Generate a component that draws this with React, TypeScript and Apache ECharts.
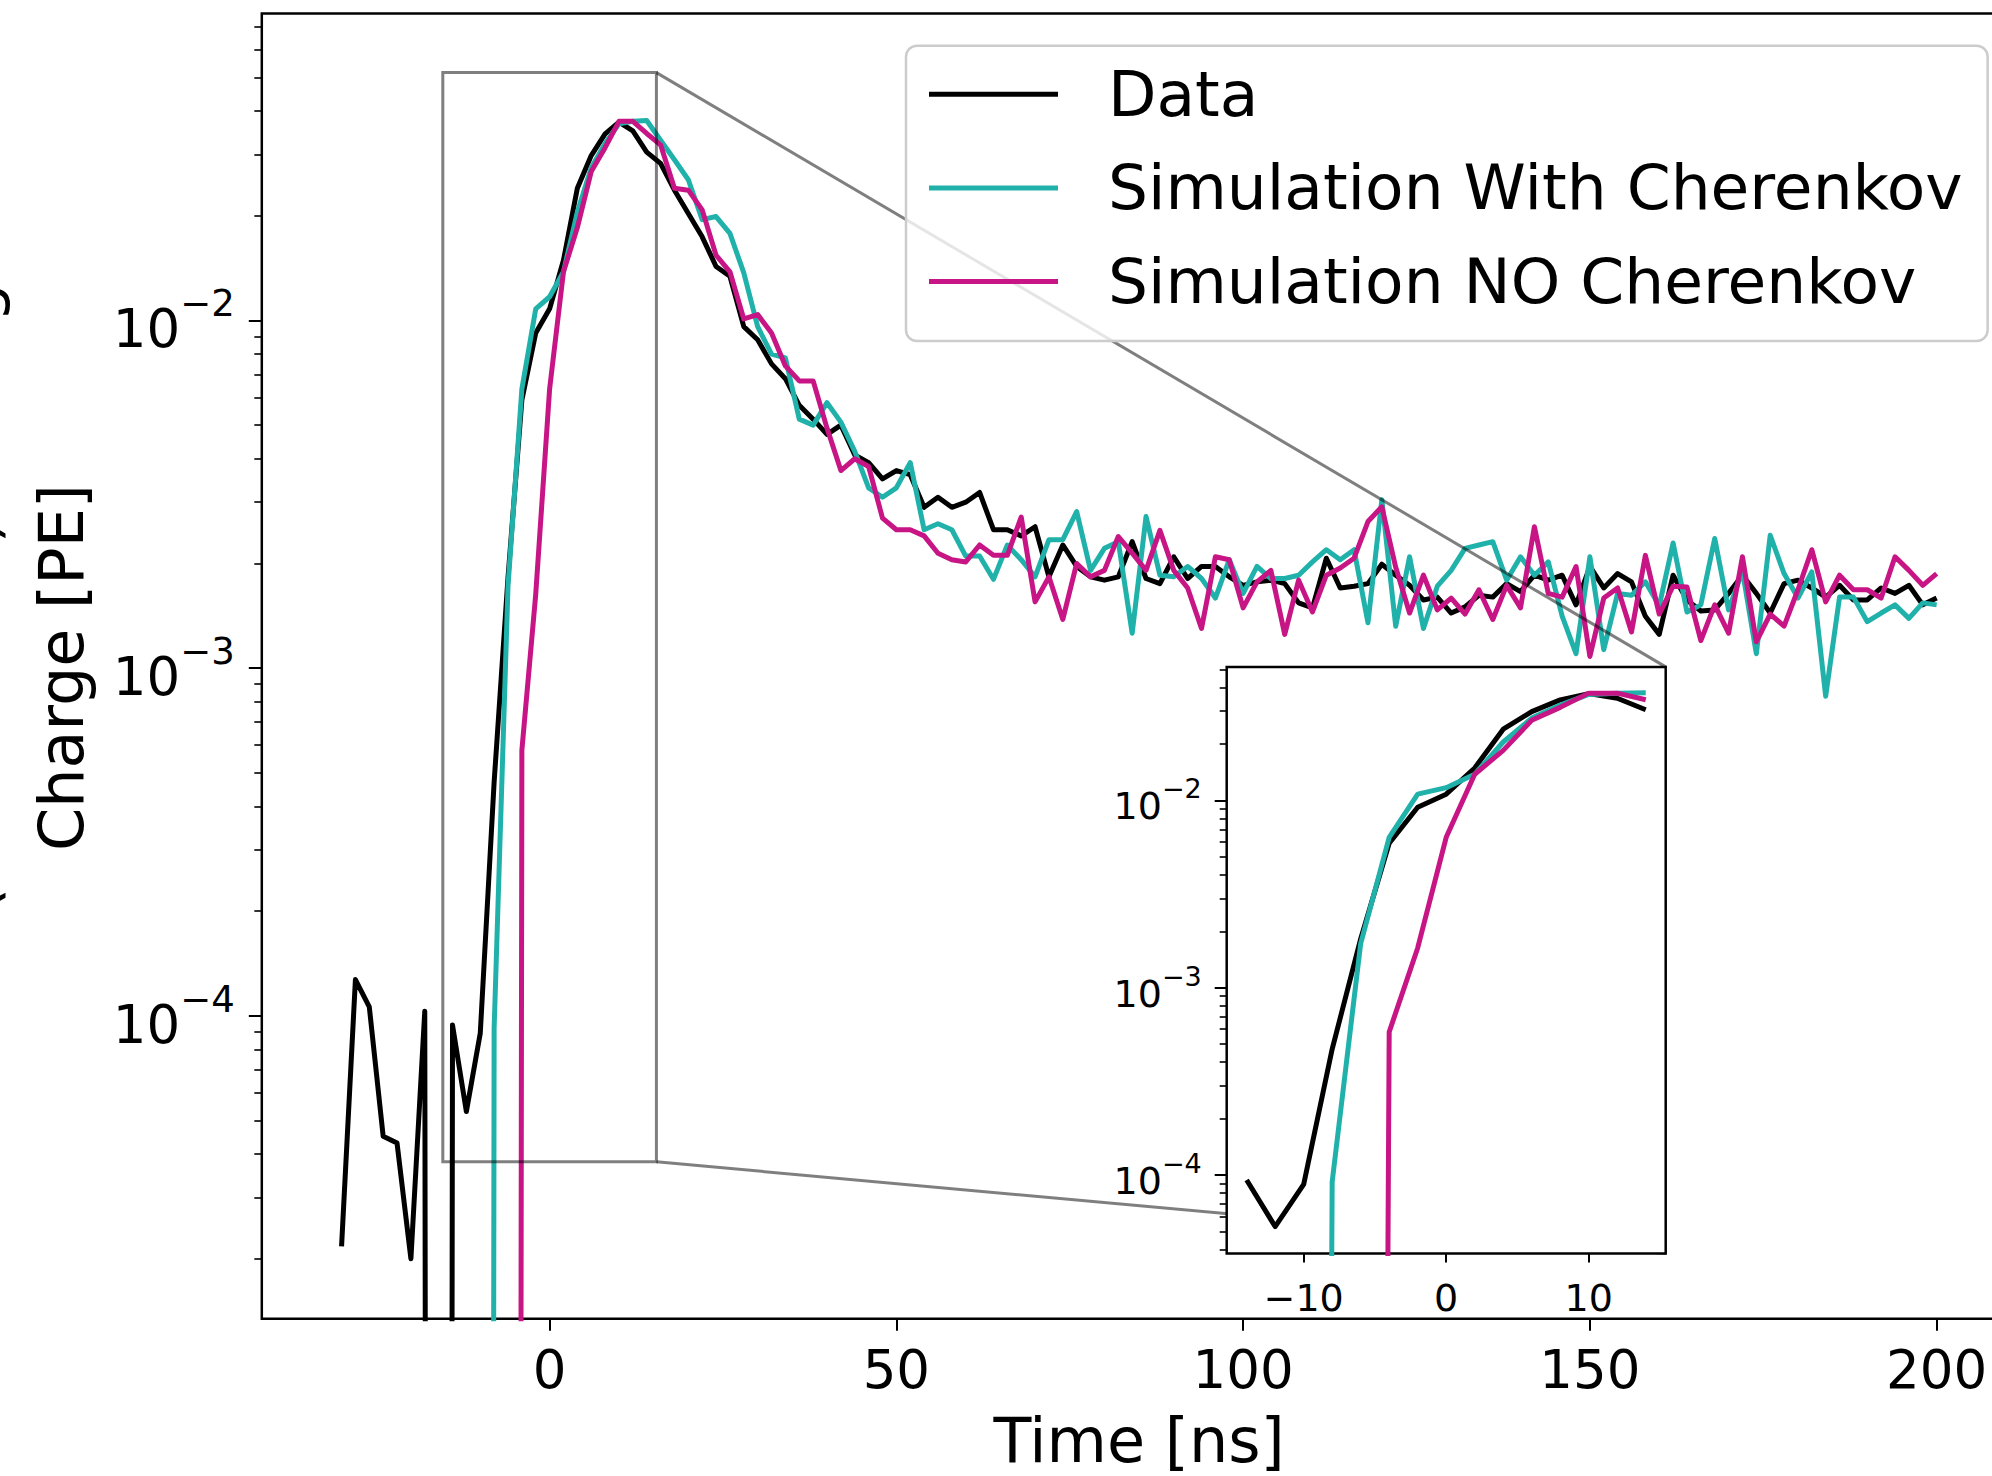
import React, { useEffect, useRef } from "react";
import * as echarts from "echarts";

// ---------------- data ----------------
const TIME = [
  -30, -28, -26, -24, -22, -20, -18, -16, -14, -12,
  -10, -8, -6, -4, -2, 0, 2, 4, 6, 8,
  10, 12, 14, 16, 18, 20, 22, 24, 26, 28,
  30, 32, 34, 36, 38, 40, 42, 44, 46, 48,
  50, 52, 54, 56, 58, 60, 62, 64, 66, 68,
  70, 72, 74, 76, 78, 80, 82, 84, 86, 88,
  90, 92, 94, 96, 98, 100, 102, 104, 106, 108,
  110, 112, 114, 116, 118, 120, 122, 124, 126, 128,
  130, 132, 134, 136, 138, 140, 142, 144, 146, 148,
  150, 152, 154, 156, 158, 160, 162, 164, 166, 168,
  170, 172, 174, 176, 178, 180, 182, 184, 186, 188,
  190, 192, 194, 196, 198, 200,
];

const DATA = [
  2.17e-5, 1.27e-4, 1.06e-4, 4.5e-5, 4.3e-5, 2.0e-5, 1.03e-4, 0, 9.4e-5, 5.3e-5,
  8.9e-5, 4.7e-4, 1.82e-3, 5.9e-3, 9.2e-3, 0.0108, 0.0149, 0.024, 0.0298, 0.0344,
  0.0372, 0.0351, 0.0305, 0.0283, 0.0237, 0.0203, 0.0174, 0.0143, 0.0134, 0.0096,
  0.0088, 0.0075, 0.0068, 0.0057, 0.0052, 0.0047, 0.0050, 0.0041, 0.0039, 0.0035,
  0.0037, 0.0036, 0.0029, 0.0031, 0.0029, 0.0030, 0.0032, 0.0025, 0.0025, 0.0024,
  0.00255, 0.00183, 0.00226, 0.00196, 0.00183, 0.00179, 0.00183, 0.00231, 0.00181, 0.00175,
  0.00209, 0.00181, 0.00196, 0.00196, 0.00183, 0.00173, 0.00177, 0.00179, 0.00175, 0.00154,
  0.00149, 0.00207, 0.00170, 0.00172, 0.00175, 0.00199, 0.00185, 0.00173, 0.00157, 0.00160,
  0.00144, 0.00150, 0.00162, 0.00160, 0.00175, 0.00166, 0.00185, 0.00179, 0.00185, 0.00152,
  0.00196, 0.00170, 0.00187, 0.00177, 0.00141, 0.00125, 0.00185, 0.00157, 0.00146, 0.00147,
  0.00164, 0.00185, 0.00164, 0.00144, 0.00175, 0.00179, 0.00170, 0.00160, 0.00173, 0.00157,
  0.00157, 0.00170, 0.00164, 0.00173, 0.00152, 0.00159,
];

const SIM_WITH_CHERENKOV = [
  0, 0, 0, 0, 0, 0, 0, 0, 0, 0,
  0, 9.2e-5, 1.72e-3, 6.35e-3, 0.0108, 0.0117, 0.0138, 0.0205, 0.0275, 0.0323,
  0.0368, 0.0374, 0.0376, 0.033, 0.029, 0.0254, 0.0195, 0.0199, 0.0178, 0.0137,
  0.0096, 0.0080, 0.0078, 0.0052, 0.0050, 0.0058, 0.0051, 0.0042, 0.0033, 0.0031,
  0.0033, 0.0039, 0.0025, 0.0026, 0.0025, 0.0021, 0.0021, 0.0018, 0.00226, 0.00205,
  0.00183, 0.00234, 0.00234, 0.00282, 0.00191, 0.00221, 0.00231, 0.00126, 0.00273, 0.00185,
  0.00183, 0.00196, 0.00181, 0.00159, 0.00205, 0.00164, 0.00196, 0.00181, 0.00181, 0.00185,
  0.00202, 0.00219, 0.00205, 0.00219, 0.00135, 0.00305, 0.00132, 0.00209, 0.00130, 0.00172,
  0.00191, 0.00221, 0.00226, 0.00231, 0.00179, 0.00209, 0.00185, 0.00202, 0.00141, 0.00110,
  0.00209, 0.00113, 0.00164, 0.00162, 0.00177, 0.00151, 0.00229, 0.00145, 0.00152, 0.00236,
  0.00147, 0.00190, 0.00110, 0.00241, 0.00187, 0.00159, 0.00189, 0.00083, 0.00160, 0.00160,
  0.00136, 0.00144, 0.00152, 0.00139, 0.00154, 0.00152,
];

const SIM_NO_CHERENKOV = [
  0, 0, 0, 0, 0, 0, 0, 0, 0, 0,
  0, 0, 0, 5.8e-4, 1.63e-3, 6.35e-3, 0.0138, 0.0185, 0.0268, 0.0314,
  0.0374, 0.0374, 0.0345, 0.032, 0.024, 0.0237, 0.0208, 0.0154, 0.0138, 0.0101,
  0.0104, 0.0092, 0.0074, 0.0067, 0.0067, 0.0049, 0.0037, 0.0040, 0.0038, 0.0027,
  0.0025, 0.0025, 0.0024, 0.00214, 0.00205, 0.00202, 0.00226, 0.00211, 0.00211, 0.00272,
  0.00155, 0.00183, 0.00138, 0.00200, 0.00183, 0.00191, 0.00239, 0.00214, 0.00191, 0.00249,
  0.00191, 0.00170, 0.00130, 0.00209, 0.00205, 0.00149, 0.00177, 0.00191, 0.00125, 0.00179,
  0.00145, 0.00185, 0.00194, 0.00207, 0.00264, 0.00291, 0.00195, 0.00144, 0.00185, 0.00147,
  0.00159, 0.00143, 0.00168, 0.00138, 0.00173, 0.00149, 0.00255, 0.00164, 0.00160, 0.00196,
  0.00108, 0.00159, 0.00170, 0.00127, 0.00211, 0.00143, 0.00172, 0.00171, 0.00120, 0.00152,
  0.00126, 0.00209, 0.00119, 0.00143, 0.00132, 0.00168, 0.00219, 0.00155, 0.00185, 0.00168,
  0.00168, 0.00159, 0.00209, 0.00191, 0.00173, 0.00187,
];

const SERIES_NAMES = ["Data", "Simulation With Cherenkov", "Simulation NO Cherenkov"];
const SERIES_COLORS = ["#000000", "#20b2aa", "#c71585"];

// axis ticks
const X_TICKS = [0, 50, 100, 150, 200];
const Y_MAJOR = [1e-4, 1e-3, 1e-2];
const Y_MINOR = [
  2e-5, 3e-5, 4e-5, 5e-5, 6e-5, 7e-5, 8e-5, 9e-5,
  2e-4, 3e-4, 4e-4, 5e-4, 6e-4, 7e-4, 8e-4, 9e-4,
  2e-3, 3e-3, 4e-3, 5e-3, 6e-3, 7e-3, 8e-3, 9e-3,
  2e-2, 3e-2, 4e-2, 5e-2, 6e-2, 7e-2,
];
const INSET_X_TICKS = [-10, 0, 10];
const INSET_Y_MAJOR = [1e-4, 1e-3, 1e-2];
const INSET_Y_MINOR = [
  4e-5, 5e-5, 6e-5, 7e-5, 8e-5, 9e-5,
  2e-4, 3e-4, 4e-4, 5e-4, 6e-4, 7e-4, 8e-4, 9e-4,
  2e-3, 3e-3, 4e-3, 5e-3, 6e-3, 7e-3, 8e-3, 9e-3,
  2e-2, 3e-2, 4e-2, 5e-2,
];

// axis limits
const X_MIN = -41.5;
const X_MAX = 211.5;
const Y_MIN = 1.343e-5;
const Y_MAX = 0.07643;
const INSET_X_MIN = -15.4;
const INSET_X_MAX = 15.4;
const INSET_Y_MIN = 3.8e-5;
const INSET_Y_MAX = 0.05164;
const INSET_T_FIRST = -14;
const INSET_T_LAST = 14;

const X_LABEL = "Time [ns]";
// first line of the y label is almost entirely cut off by the left edge in the reference
const Y_LABEL_1 = "(normalized) Average";
const Y_LABEL_2 = "Charge [PE]";

// ---------------- layout ----------------
const W = 1992;
const H = 1476;
const FONT = "DejaVu Sans";
const MAIN_GRID = { left: 261.8, top: 13.4, width: 1754.6, height: 1305.4 };
const INSET_GRID = { left: 1226.7, top: 666.9, width: 439, height: 586.7 };
const EDGE = "rgba(0,0,0,0.5)";
const LINE_W = 5;

// matplotlib clips non-positive values on a log axis to a tiny positive number
const CLIP_FLOOR = 1e-30;
const asLog = (v: number) => (v > 0 ? v : CLIP_FLOOR);

const seriesValues = [DATA, SIM_WITH_CHERENKOV, SIM_NO_CHERENKOV];

const minusFmt = (v: number) => String(v).replace("-", "\u2212");
const powFmt = (v: number) => `{b|10}{s|\u2212${Math.round(-v)}}`;

export default function App() {
  const ref = useRef<HTMLDivElement>(null);

  useEffect(() => {
    const el = ref.current!;
    const chart = echarts.init(el, undefined, { renderer: "svg", width: W, height: H });

    const mainSeries = seriesValues.map((vals, i) => ({
      type: "line",
      name: SERIES_NAMES[i],
      xAxisIndex: 0,
      yAxisIndex: 0,
      data: TIME.map((t, k) => [t, asLog(vals[k])]),
      symbol: "none",
      showSymbol: false,
      clip: true,
      z: 2,
      lineStyle: { color: SERIES_COLORS[i], width: LINE_W, join: "round" },
      itemStyle: { color: SERIES_COLORS[i] },
      emphasis: { disabled: true },
    }));

    const insetSeries = seriesValues.map((vals, i) => ({
      type: "line",
      name: SERIES_NAMES[i],
      xAxisIndex: 1,
      yAxisIndex: 3,
      data: TIME.map((t, k) => [t, asLog(vals[k])]).filter(
        (p) => p[0] >= INSET_T_FIRST && p[0] <= INSET_T_LAST
      ),
      symbol: "none",
      showSymbol: false,
      clip: true,
      z: 7,
      lineStyle: { color: SERIES_COLORS[i], width: LINE_W, join: "round" },
      itemStyle: { color: SERIES_COLORS[i] },
      emphasis: { disabled: true },
    }));

    const majorTick = (vals: number[], len: number) => ({
      show: true,
      customValues: vals,
      length: len,
      lineStyle: { color: "#000", width: 2 },
    });

    const richLabel = (big: number, small: number, lh: number) => ({
      b: { fontSize: big, fontFamily: FONT, color: "#000", verticalAlign: "bottom", lineHeight: lh },
      s: { fontSize: small, fontFamily: FONT, color: "#000", verticalAlign: "top", lineHeight: small },
    });

    const option: any = {
      animation: false,
      backgroundColor: "#ffffff",
      textStyle: { fontFamily: FONT },
      grid: [
        {
          ...MAIN_GRID,
          show: true,
          backgroundColor: "#ffffff",
          borderColor: "#000",
          borderWidth: 2.5,
          containLabel: false,
          outerBoundsMode: "none",
          z: 0,
        },
        {
          ...INSET_GRID,
          show: true,
          backgroundColor: "#ffffff",
          borderColor: "#000",
          borderWidth: 2.5,
          containLabel: false,
          outerBoundsMode: "none",
          z: 5,
        },
      ],
      xAxis: [
        {
          gridIndex: 0,
          type: "value",
          min: X_MIN,
          max: X_MAX,
          position: "bottom",
          axisLine: { show: false, onZero: false },
          axisTick: majorTick(X_TICKS, 12),
          axisLabel: {
            customValues: X_TICKS,
            fontSize: 53,
            fontFamily: FONT,
            color: "#000",
            margin: 24,
            formatter: minusFmt,
          },
          splitLine: { show: false },
          name: X_LABEL,
          nameLocation: "middle",
          nameGap: 91,
          nameTextStyle: { fontSize: 62, fontFamily: FONT, color: "#000" },
        },
        {
          gridIndex: 1,
          type: "value",
          min: INSET_X_MIN,
          max: INSET_X_MAX,
          position: "bottom",
          z: 6,
          axisLine: { show: false, onZero: false },
          axisTick: majorTick(INSET_X_TICKS, 9),
          axisLabel: {
            customValues: INSET_X_TICKS,
            fontSize: 38,
            fontFamily: FONT,
            color: "#000",
            margin: 25,
            formatter: minusFmt,
          },
          splitLine: { show: false },
        },
      ],
      yAxis: [
        // 0: main log axis carrying the data
        {
          gridIndex: 0,
          type: "log",
          logBase: 10,
          min: Y_MIN,
          max: Y_MAX,
          position: "left",
          axisLine: { show: false, onZero: false },
          axisTick: { show: false },
          axisLabel: { show: false },
          splitLine: { show: false },
          minorTick: { show: false },
        },
        // 1: main decade ticks + labels (log10 space)
        {
          gridIndex: 0,
          type: "value",
          min: Math.log10(Y_MIN),
          max: Math.log10(Y_MAX),
          position: "left",
          axisLine: { show: false, onZero: false },
          axisTick: majorTick(Y_MAJOR.map(Math.log10), 13),
          axisLabel: {
            customValues: Y_MAJOR.map(Math.log10),
            formatter: powFmt,
            margin: 27,
            rich: richLabel(53, 37, 70),
          },
          splitLine: { show: false },
        },
        // 2: main minor ticks
        {
          gridIndex: 0,
          type: "value",
          min: Math.log10(Y_MIN),
          max: Math.log10(Y_MAX),
          position: "left",
          axisLine: { show: false, onZero: false },
          axisTick: { show: true, customValues: Y_MINOR.map(Math.log10), length: 7.5, lineStyle: { color: "#000", width: 1.6 } },
          axisLabel: { show: false },
          splitLine: { show: false },
        },
        // 3: inset log axis carrying data
        {
          gridIndex: 1,
          type: "log",
          logBase: 10,
          min: INSET_Y_MIN,
          max: INSET_Y_MAX,
          position: "left",
          z: 6,
          axisLine: { show: false, onZero: false },
          axisTick: { show: false },
          axisLabel: { show: false },
          splitLine: { show: false },
        },
        // 4: inset decade ticks + labels
        {
          gridIndex: 1,
          type: "value",
          min: Math.log10(INSET_Y_MIN),
          max: Math.log10(INSET_Y_MAX),
          position: "left",
          z: 6,
          axisLine: { show: false, onZero: false },
          axisTick: majorTick(INSET_Y_MAJOR.map(Math.log10), 12),
          axisLabel: {
            customValues: INSET_Y_MAJOR.map(Math.log10),
            formatter: powFmt,
            margin: 25,
            rich: richLabel(38, 27, 50),
          },
          splitLine: { show: false },
        },
        // 5: inset minor ticks
        {
          gridIndex: 1,
          type: "value",
          min: Math.log10(INSET_Y_MIN),
          max: Math.log10(INSET_Y_MAX),
          position: "left",
          z: 6,
          axisLine: { show: false, onZero: false },
          axisTick: { show: true, customValues: INSET_Y_MINOR.map(Math.log10), length: 7, lineStyle: { color: "#000", width: 1.6 } },
          axisLabel: { show: false },
          splitLine: { show: false },
        },
      ],
      legend: {
        data: SERIES_NAMES,
        orient: "vertical",
        left: 906,
        top: 45.7,
        padding: [17, 25, 28, 23],
        itemGap: 30.7,
        itemWidth: 129,
        itemHeight: 5,
        icon: "rect",
        backgroundColor: "rgba(255,255,255,0.8)",
        borderColor: "#cccccc",
        borderWidth: 2.5,
        borderRadius: 11,
        selectedMode: false,
        z: 4,
        textStyle: {
          fontSize: 63,
          fontFamily: FONT,
          color: "#000",
          lineHeight: 62,
          padding: [0, 0, 0, 45],
        },
      },
      series: [...mainSeries, ...insetSeries],
    };

    chart.setOption(option);

    // inset indicator rectangle and connectors, positioned through the axes
    const toMain = (p: number[]) => chart.convertToPixel({ xAxisIndex: 0, yAxisIndex: 0 } as any, p) as number[];
    const toInset = (p: number[]) => chart.convertToPixel({ xAxisIndex: 1, yAxisIndex: 3 } as any, p) as number[];
    const rTL = toMain([INSET_X_MIN, INSET_Y_MAX]);
    const rBR = toMain([INSET_X_MAX, INSET_Y_MIN]);
    const iTR = toInset([INSET_X_MAX, INSET_Y_MAX]);
    const iBR = toInset([INSET_X_MAX, INSET_Y_MIN]);

    chart.setOption({
      graphic: [
        {
          type: "rect",
          z: 3,
          silent: true,
          shape: { x: rTL[0], y: rTL[1], width: rBR[0] - rTL[0], height: rBR[1] - rTL[1] },
          style: { fill: "none", stroke: EDGE, lineWidth: 3 },
        },
        {
          type: "line",
          z: 3,
          silent: true,
          shape: { x1: rBR[0], y1: rTL[1], x2: iTR[0], y2: iTR[1] },
          style: { stroke: EDGE, lineWidth: 3 },
        },
        {
          type: "line",
          z: 3,
          silent: true,
          shape: { x1: rBR[0], y1: rBR[1], x2: iBR[0], y2: iBR[1] },
          style: { stroke: EDGE, lineWidth: 3 },
        },
        {
          type: "text",
          z: 3,
          silent: true,
          x: 61.5,
          y: 667.5,
          rotation: Math.PI / 2,
          style: { text: Y_LABEL_2, fontSize: 62, fontFamily: FONT, fill: "#000", align: "center", verticalAlign: "middle" },
        },
        {
          type: "text",
          z: 3,
          silent: true,
          x: -25,
          y: 912,
          rotation: Math.PI / 2,
          style: { text: Y_LABEL_1, fontSize: 62, fontFamily: FONT, fill: "#000", align: "left", verticalAlign: "middle" },
        },
      ],
    });

    return () => chart.dispose();
  }, []);

  return (
    <div
      ref={ref}
      style={{ position: "fixed", left: 0, top: 0, width: W, height: H, background: "#ffffff" }}
    />
  );
}
